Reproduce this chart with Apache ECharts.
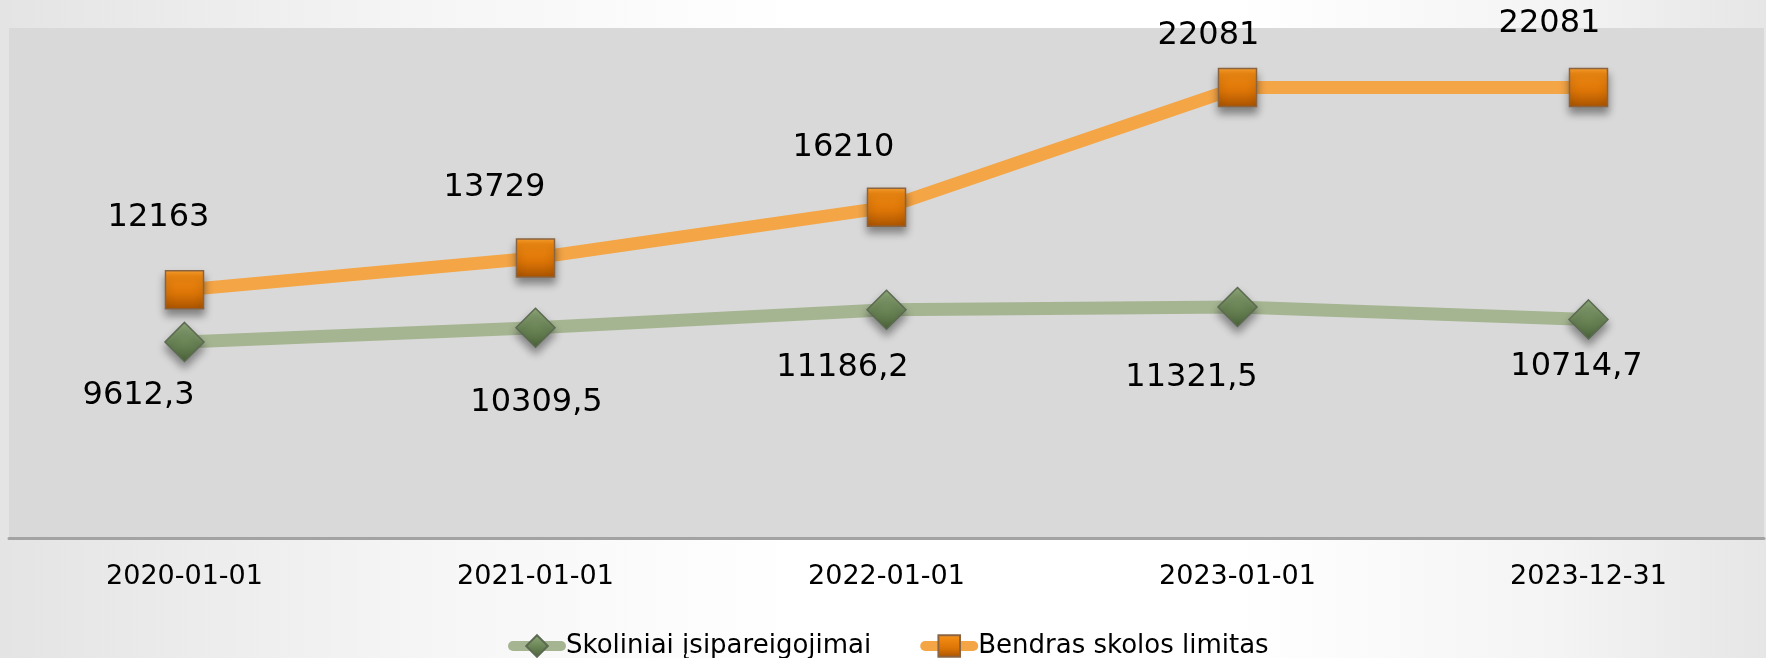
<!DOCTYPE html>
<html>
<head>
<meta charset="utf-8">
<script src="https://cdn.jsdelivr.net/npm/echarts@6/dist/echarts.min.js"></script>
<style>
html, body {margin: 0; padding: 0;}
#chart {
	width: 1766px;
	height: 658px;
	background: linear-gradient(to right, #e4e4e4 0%, #f6f6f6 25%, #ffffff 45%, #ffffff 70%, #f4f4f4 88%, #e6e6e6 100%);
}
</style>
</head>
<body>
<div id="chart"></div>
<script>
var dates = ['2020-01-01', '2021-01-01', '2022-01-01', '2023-01-01', '2023-12-31'];
var skoliniai = [9612.3, 10309.5, 11186.2, 11321.5, 10714.7];
var limitas = [12163, 13729, 16210, 22081, 22081];
var name_skol = 'Skoliniai įsipareigojimai';
var name_lim = 'Bendras skolos limitas';

// label offsets from each marker, as placed in the original
var lim_offsets = [[-26, -72], [-41, -70], [-43, -60], [-29, -52], [-39, -64]];
var skol_offsets = [[-46, 54], [1, 75], [-44, 58], [-46, 71], [-12, 47]];

function fmt(v) {
	return String(v).replace('.', ',');
}

function build_data(values, offsets) {
	var out = [];
	for (var i = 0; i < values.length; i++) {
		out.push({
			value: values[i],
			label: {offset: offsets[i]}
		});
	}
	return out;
}

var orange_fill = {
	type: 'linear', x: 0, y: 0, x2: 0, y2: 1,
	colorStops: [
		{offset: 0, color: '#f9a030'},
		{offset: 0.15, color: '#f28a12'},
		{offset: 0.6, color: '#db7406'},
		{offset: 1, color: '#a95300'}
	]
};
var green_fill = {
	type: 'linear', x: 0, y: 0, x2: 0, y2: 1,
	colorStops: [
		{offset: 0, color: '#90aa7a'},
		{offset: 0.5, color: '#6d8758'},
		{offset: 1, color: '#4b6239'}
	]
};

var label_font = {
	show: true,
	position: 'inside',
	color: '#000',
	fontFamily: 'DejaVu Sans',
	fontSize: 32,
	formatter: function (p) { return fmt(p.value); }
};

var myChart = echarts.init(document.getElementById('chart'));
var option = {
	backgroundColor: 'transparent',
	animation: false,
	grid: {
		left: 9,
		right: 2,
		top: 28,
		bottom: 120,
		show: true,
		backgroundColor: '#d9d9d9',
		borderWidth: 0
	},
	legend: {
		left: 503,
		top: 628,
		itemWidth: 48,
		itemHeight: 27,
		itemGap: 49,
		itemTextGap: 6,
		textStyle: {fontFamily: 'DejaVu Sans', fontSize: 26, color: '#000'},
		data: [
			{name: name_skol, lineStyle: {width: 10, cap: 'round'}},
			{name: name_lim, lineStyle: {width: 10, cap: 'round'}}
		]
	},
	xAxis: {
		type: 'category',
		data: dates,
		axisLine: {lineStyle: {color: '#a3a3a3', width: 3}},
		axisTick: {show: false},
		axisLabel: {
			margin: 25,
			color: '#000',
			fontFamily: 'DejaVu Sans',
			fontSize: 27
		}
	},
	yAxis: {
		type: 'value',
		min: 0,
		max: 25000,
		show: false,
		splitLine: {show: false}
	},
	series: [
		{
			name: name_skol,
			type: 'line',
			data: build_data(skoliniai, skol_offsets),
			symbol: 'diamond',
			symbolSize: 39,
			lineStyle: {color: '#a5b591', width: 13},
			itemStyle: {
				color: green_fill,
				borderColor: '#5b6a51',
				borderWidth: 1.5,
				shadowBlur: 8,
				shadowOffsetY: 6,
				shadowColor: 'rgba(0,0,0,0.4)'
			},
			label: label_font,
			z: 3
		},
		{
			name: name_lim,
			type: 'line',
			data: build_data(limitas, lim_offsets),
			symbol: 'rect',
			symbolSize: 38,
			lineStyle: {color: '#f4a546', width: 13},
			itemStyle: {
				color: orange_fill,
				borderColor: '#8a6440',
				borderWidth: 1.5,
				shadowBlur: 8,
				shadowOffsetY: 6,
				shadowColor: 'rgba(0,0,0,0.4)'
			},
			label: label_font,
			z: 3
		}
	]
};
myChart.setOption(option);
</script>
</body>
</html>
